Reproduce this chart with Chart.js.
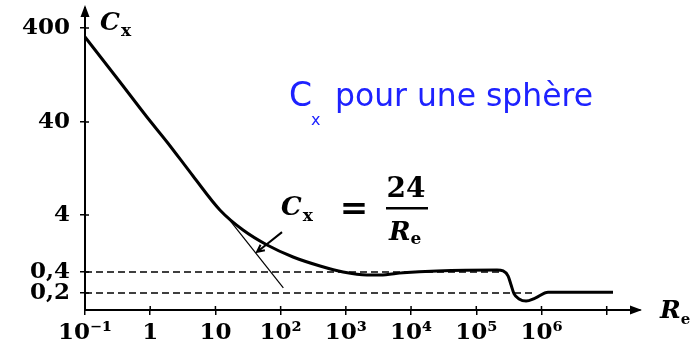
<!DOCTYPE html>
<html lang="fr">
<head>
<meta charset="UTF-8">
<title>Cx pour une sphère</title>
<script src="https://cdn.jsdelivr.net/npm/chart.js"></script>
<style>
html,body{margin:0;padding:0;background:#fff;}
#wrap{width:694px;height:346px;}
</style>
</head>
<body>
<div id="wrap"><canvas id="chart" width="694" height="346"></canvas></div>
<script>
/* -------- data -------- */
const reValues = [0.1, 0.344, 0.89, 1.81, 4.53, 11.8, 26.5, 62, 155, 402, 906, 2110, 3350, 7530, 25000,
                  208000, 258000, 308000, 342000, 380000, 453000, 580000, 800000, 1260000, 12500000];
const cxValues = [321, 106.6, 45.2, 24.4, 10.5, 4.5, 2.18, 1.19, 0.733, 0.51, 0.4, 0.362, 0.362, 0.39, 0.417,
                  0.433, 0.417, 0.35, 0.26, 0.194, 0.164, 0.153, 0.169, 0.205, 0.205];
const stokesRe = [15.1, 110];        // Cx = 24/Re tangent
const stokesCx = [3.69, 0.236];
const refLevels = [0.4, 0.2];        // dashed guide lines
const refEndRe  = [250000, 740000];

const xTicks      = [0.1, 1, 10, 1e2, 1e3, 1e4, 1e5, 1e6, 1e7];
const xTickLabels = ['10⁻¹', '1', '10', '10²', '10³', '10⁴', '10⁵', '10⁶', ''];
const yTicks      = [0.2, 0.4, 4, 40, 400];
const yTickLabels = ['0,2', '0,4', '4', '40', '400'];

/* the printed Cx axis is log but not evenly spaced: value -> fraction of axis height */
const Y_WARP = [[0.114, 0], [0.2, 0.0563], [0.4, 0.1258], [4, 0.3146], [40, 0.6225], [400, 0.9338], [653, 1]];

function warp(v){
    const l = Math.log10(v);
    let i = 0;
    while(i < Y_WARP.length-2 && l > Math.log10(Y_WARP[i+1][0])) i++;
    const a = Y_WARP[i], b = Y_WARP[i+1];
    const la = Math.log10(a[0]), lb = Math.log10(b[0]);
    return a[1] + (l-la)/(lb-la)*(b[1]-a[1]);
}
function unwarp(f){
    let i = 0;
    while(i < Y_WARP.length-2 && f > Y_WARP[i+1][1]) i++;
    const a = Y_WARP[i], b = Y_WARP[i+1];
    const la = Math.log10(a[0]), lb = Math.log10(b[0]);
    return Math.pow(10, la + (f-a[1])/(b[1]-a[1])*(lb-la));
}

class WarpedLogScale extends Chart.LogarithmicScale{
    static id = 'warpedLog';
    getPixelForValue(v){ return this.getPixelForDecimal(warp(v)); }
    getValueForPixel(p){ return unwarp(this.getDecimalForPixel(p)); }
}
Chart.register(WarpedLogScale);

/* -------- extra drawing: arrows, labels, formula, title -------- */
function txt(ctx, s, x, y, font, color, align){
    ctx.font = font;
    ctx.fillStyle = color || '#000';
    ctx.textAlign = align || 'left';
    ctx.textBaseline = 'alphabetic';
    ctx.fillText(s, x, y);
    return x + ctx.measureText(s).width;   // right edge (left aligned)
}

const SERIF = '"DejaVu Serif"';

const decor = {
    id: 'decor',
    afterDraw(chart){
        const ctx = chart.ctx, a = chart.chartArea;
        const xs = chart.scales.x, ys = chart.scales.y;
        ctx.save();
        ctx.fillStyle = '#000';
        ctx.strokeStyle = '#000';

        // axis arrow heads
        ctx.beginPath();
        ctx.moveTo(a.right+2, a.bottom); ctx.lineTo(a.right-10, a.bottom-4.5); ctx.lineTo(a.right-10, a.bottom+4.5);
        ctx.closePath(); ctx.fill();
        ctx.beginPath();
        ctx.moveTo(a.left, a.top-3); ctx.lineTo(a.left-4.5, a.top+9); ctx.lineTo(a.left+4.5, a.top+9);
        ctx.closePath(); ctx.fill();

        // tick stubs inside the axes
        ctx.lineWidth = 1.5;
        ctx.beginPath();
        xTicks.slice(1).forEach(v=>{ const px = xs.getPixelForValue(v); ctx.moveTo(px, a.bottom); ctx.lineTo(px, a.bottom-4); });
        yTicks.forEach(v=>{ const py = ys.getPixelForValue(v); ctx.moveTo(a.left, py); ctx.lineTo(a.left+4, py); });
        ctx.stroke();

        // axis names
        let r = txt(ctx, 'C', 100, 30, 'italic bold 25px '+SERIF);
        txt(ctx, 'x', r+1, 36, 'bold 17px '+SERIF);
        r = txt(ctx, 'R', 660, 318, 'italic bold 25px '+SERIF);
        txt(ctx, 'e', r, 324, 'bold 15px '+SERIF);

        // formula Cx = 24 / Re
        r = txt(ctx, 'C', 281, 215, 'italic bold 26px '+SERIF);
        txt(ctx, 'x', r+1, 221, 'bold 17px '+SERIF);
        txt(ctx, '=', 354, 219, 'bold 34px '+SERIF, '#000', 'center');
        txt(ctx, '24', 406, 197, 'bold 28px '+SERIF, '#000', 'center');
        ctx.fillRect(386, 207, 42, 2.5);
        r = txt(ctx, 'R', 389, 240, 'italic bold 26px '+SERIF);
        txt(ctx, 'e', r, 244, 'bold 17px '+SERIF);

        // arrow pointing at the tangent
        const x0 = xs.getPixelForValue(105),  y0 = ys.getPixelForValue(2.0);
        const x1 = xs.getPixelForValue(43.5), y1 = ys.getPixelForValue(0.9);
        const ang = Math.atan2(y1-y0, x1-x0);
        ctx.lineWidth = 2;
        ctx.beginPath();
        ctx.moveTo(x0, y0); ctx.lineTo(x1, y1);
        ctx.moveTo(x1-8*Math.cos(ang-0.45), y1-8*Math.sin(ang-0.45)); ctx.lineTo(x1, y1);
        ctx.lineTo(x1-8*Math.cos(ang+0.45), y1-8*Math.sin(ang+0.45));
        ctx.stroke();

        // blue title
        const blue = '#1e22ff';
        txt(ctx, 'C', 289, 106, '33px "DejaVu Sans"', blue);
        txt(ctx, 'x', 311, 125, '16px "DejaVu Sans"', blue);
        const title = 'pour une sphère';
        ctx.font = '28px "DejaVu Sans"';
        const w = ctx.measureText(title).width;
        const size = 28 * 258 / w;
        txt(ctx, title, 335, 106, size.toFixed(1)+'px "DejaVu Sans"', blue);

        ctx.restore();
    }
};

/* -------- chart -------- */
const tickFont = {family:SERIF, weight:'bold', size:23};

new Chart(document.getElementById('chart'), {
    type: 'line',
    data: {
        datasets: [
            {data: reValues.map((x,i)=>({x, y:cxValues[i]})), borderColor:'#000', borderWidth:3,
             pointRadius:0, cubicInterpolationMode:'monotone', order:0},
            {data: stokesRe.map((x,i)=>({x, y:stokesCx[i]})), borderColor:'#000', borderWidth:1.2,
             pointRadius:0, order:1},
            {data: [{x:0.1, y:refLevels[0]}, {x:refEndRe[0], y:refLevels[0]}], borderColor:'#000',
             borderWidth:1.4, borderDash:[7,4], pointRadius:0, order:2},
            {data: [{x:0.1, y:refLevels[1]}, {x:refEndRe[1], y:refLevels[1]}], borderColor:'#000',
             borderWidth:1.4, borderDash:[7,4], pointRadius:0, order:3}
        ]
    },
    options: {
        responsive: false,
        animation: false,
        devicePixelRatio: 1,
        layout: {padding: {top:8, right:54, left:0, bottom:0}},
        plugins: {legend:{display:false}, tooltip:{enabled:false}},
        scales: {
            x: {
                type: 'logarithmic', min: 0.1, max: 3.24e7,
                border: {color:'#000', width:2},
                grid: {drawOnChartArea:false, color:'#000', lineWidth:1.5, tickLength:5},
                ticks: {autoSkip:false, maxRotation:0, padding:4, color:'#000', font:tickFont,
                        callback:(v,i)=>xTickLabels[i]},
                afterBuildTicks: s=>{ s.ticks = xTicks.map(v=>({value:v})); },
                afterFit: s=>{ s.height = 36; s.paddingLeft = 0; s.paddingRight = 0; }
            },
            y: {
                type: 'warpedLog', min: 0.114, max: 653,
                border: {color:'#000', width:2},
                grid: {drawOnChartArea:false, color:'#000', lineWidth:1.5, tickLength:5},
                ticks: {autoSkip:false, padding:10, color:'#000', font:tickFont,
                        callback:(v,i)=>yTickLabels[i]},
                afterBuildTicks: s=>{ s.ticks = yTicks.map(v=>({value:v})); },
                afterFit: s=>{ s.width = 85; s.paddingTop = 0; s.paddingBottom = 0; }
            }
        }
    },
    plugins: [decor]
});
</script>
</body>
</html>
